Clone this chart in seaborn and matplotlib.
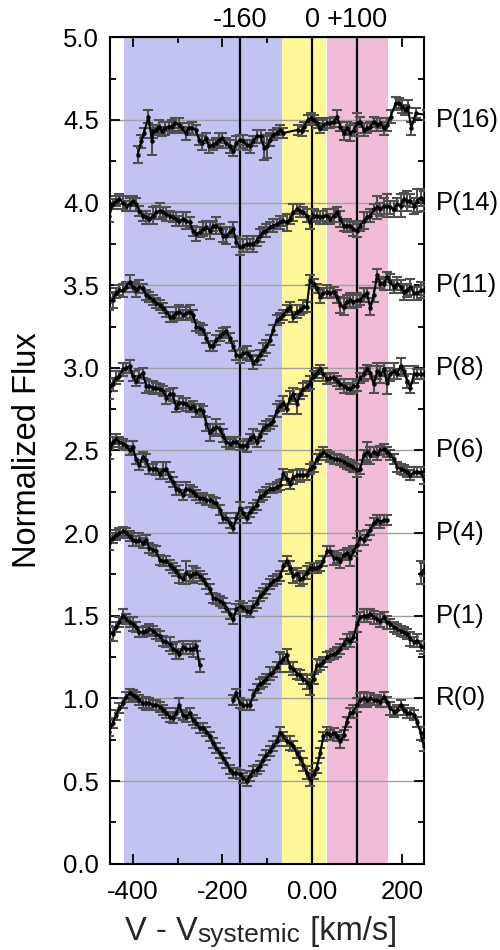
import matplotlib
matplotlib.use('Agg')
import matplotlib.pyplot as plt
import matplotlib.transforms as mtransforms
from matplotlib.ticker import MultipleLocator, FormatStrFormatter
import seaborn as sns
import pandas as pd
import numpy as np

# common velocity sampling (km/s) for most lines
velocity = [-452, -445, -437, -430, -422, -415, -407, -400, -393, -385,
            -378, -370, -363, -355, -348, -340, -333, -325, -318, -311,
            -303, -296, -288, -281, -273, -266, -258, -251, -243, -236,
            -228, -221, -214, -206, -199, -191, -184, -176, -169, -161,
            -154, -146, -139, -131, -124, -117, -109, -102, -94, -87,
            -79, -72, -64, -57, -49, -42, -34, -27, -20, -12,
            -5, 3, 10, 18, 25, 33, 40, 48, 55, 63,
            70, 77, 85, 92, 100, 107, 115, 122, 130, 137,
            145, 152, 160, 167, 174, 182, 189, 197, 204, 212,
            219, 227, 234, 242, 249]

# P(16) has its own sampling
p16_velocity = [-389, -381, -375, -365, -357, -354, -348, -342, -335, -328,
                -320, -313, -306, -297, -290, -282, -275, -267, -260, -252,
                -245, -237, -230, -222, -215, -207, -200, -193, -184, -176,
                -169, -161, -154, -146, -139, -131, -124, -115, -107, -100,
                -94, -87, -79, -72, -66, -31, -23, -18, -10, -3,
                4, 10, 18, 25, 33, 40, 48, 55, 63, 70,
                78, 85, 93, 101, 107, 115, 122, 130, 137, 145,
                152, 160, 167, 175, 186, 193, 201, 208, 213, 221,
                231, 255]
flux_p16 = [4.29, 4.37, 4.42, 4.52, 4.37, 4.43, 4.44, 4.46, 4.43, 4.45,
            4.46, 4.46, 4.48, 4.47, 4.45, 4.42, 4.45, 4.45, 4.44, 4.38,
            4.36, 4.39, 4.34, 4.35, 4.36, 4.38, 4.39, 4.36, 4.34, 4.31,
            4.36, 4.38, 4.37, 4.35, 4.34, 4.37, 4.40, 4.40, 4.33, 4.34,
            4.38, 4.41, 4.42, 4.44, 4.42, 4.44, 4.43, 4.46, 4.50, 4.51,
            4.50, 4.48, 4.45, 4.47, 4.48, 4.48, 4.49, 4.52, 4.46, 4.42,
            4.45, 4.42, 4.44, 4.48, 4.49, 4.44, 4.45, 4.46, 4.49, 4.47,
            4.48, 4.45, 4.47, 4.52, 4.60, 4.60, 4.58, 4.56, 4.58, 4.45,
            4.54, 4.53]
err_p16 = [0.05, 0.04, 0.03, 0.04, 0.08, 0.04, 0.03, 0.04, 0.03, 0.04,
           0.03, 0.04, 0.03, 0.04, 0.03, 0.04, 0.03, 0.04, 0.03, 0.03,
           0.04, 0.03, 0.04, 0.03, 0.03, 0.04, 0.03, 0.03, 0.04, 0.03,
           0.04, 0.03, 0.04, 0.03, 0.04, 0.03, 0.04, 0.04, 0.07, 0.07,
           0.04, 0.03, 0.03, 0.03, 0.03, 0.03, 0.03, 0.03, 0.03, 0.03,
           0.03, 0.03, 0.03, 0.03, 0.03, 0.03, 0.03, 0.04, 0.03, 0.04,
           0.04, 0.05, 0.04, 0.06, 0.03, 0.04, 0.03, 0.03, 0.03, 0.04,
           0.03, 0.04, 0.04, 0.04, 0.04, 0.03, 0.04, 0.03, 0.04, 0.04,
           0.03, 0.03]

flux_p14 = [3.92, 3.99, 4.01, 4.02, 4.00, 3.98, 3.99, 4.01, 3.99, 3.95,
            3.92, 3.91, 3.90, 3.92, 3.94, 3.95, 3.94, 3.93, 3.92, 3.91,
            3.90, 3.89, 3.90, 3.89, 3.88, 3.83, 3.81, 3.82, 3.84, 3.85,
            3.83, 3.86, 3.86, 3.84, 3.80, 3.80, 3.82, 3.84, 3.76, 3.73,
            3.74, 3.75, 3.75, 3.75, 3.77, 3.80, 3.82, 3.83, 3.85, 3.86,
            3.87, 3.88, 3.89, 3.88, 3.90, 3.94, 3.96, 3.95, 3.94, 3.92,
            3.88, 3.92, 3.92, 3.91, 3.92, 3.92, 3.90, 3.92, 3.94, 3.90,
            3.86, 3.86, 3.86, 3.84, 3.83, 3.86, 3.89, 3.91, 3.92, 3.96,
            3.97, 3.96, 3.98, 3.98, 3.97, 3.96, 3.99, 3.98, 4.02, 4.01,
            4.01, 3.98, 4.01, 4.03, 4.01]
err_p14 = [0.04, 0.03, 0.03, 0.03, 0.04, 0.03, 0.04, 0.03, 0.04, 0.03,
           0.03, 0.04, 0.03, 0.05, 0.04, 0.05, 0.03, 0.04, 0.03, 0.03,
           0.04, 0.03, 0.04, 0.05, 0.03, 0.03, 0.04, 0.03, 0.04, 0.04,
           0.05, 0.03, 0.05, 0.03, 0.04, 0.05, 0.03, 0.04, 0.03, 0.05,
           0.04, 0.05, 0.03, 0.05, 0.03, 0.04, 0.03, 0.04, 0.03, 0.04,
           0.03, 0.04, 0.03, 0.05, 0.03, 0.05, 0.03, 0.04, 0.03, 0.04,
           0.04, 0.04, 0.03, 0.04, 0.03, 0.04, 0.03, 0.04, 0.03, 0.05,
           0.03, 0.04, 0.03, 0.04, 0.04, 0.03, 0.05, 0.03, 0.04, 0.03,
           0.07, 0.04, 0.05, 0.07, 0.04, 0.05, 0.04, 0.07, 0.04, 0.06,
           0.04, 0.05, 0.07, 0.05, 0.06]

flux_p11 = [3.40, 3.41, 3.45, 3.47, 3.47, 3.49, 3.52, 3.49, 3.47, 3.49,
            3.48, 3.44, 3.43, 3.41, 3.39, 3.38, 3.36, 3.34, 3.31, 3.31,
            3.33, 3.34, 3.32, 3.33, 3.34, 3.32, 3.25, 3.24, 3.23, 3.18,
            3.13, 3.13, 3.17, 3.19, 3.21, 3.22, 3.18, 3.13, 3.08, 3.07,
            3.09, 3.09, 3.07, 3.03, 3.05, 3.08, 3.11, 3.13, 3.17, 3.23,
            3.29, 3.30, 3.32, 3.35, 3.37, 3.31, 3.34, 3.35, 3.37, 3.37,
            3.53, 3.51, 3.48, 3.43, 3.45, 3.46, 3.45, 3.46, 3.43, 3.38,
            3.37, 3.40, 3.41, 3.40, 3.41, 3.41, 3.44, 3.45, 3.36, 3.44,
            3.56, 3.51, 3.51, 3.55, 3.52, 3.49, 3.51, 3.49, 3.46, 3.47,
            3.49, 3.45, 3.45, 3.47, 3.47]
err_p11 = [0.05, 0.05, 0.03, 0.03, 0.04, 0.03, 0.04, 0.03, 0.04, 0.04,
           0.03, 0.03, 0.03, 0.03, 0.03, 0.03, 0.03, 0.03, 0.03, 0.03,
           0.04, 0.04, 0.03, 0.04, 0.04, 0.03, 0.03, 0.03, 0.03, 0.03,
           0.03, 0.03, 0.03, 0.03, 0.03, 0.03, 0.03, 0.03, 0.03, 0.04,
           0.03, 0.04, 0.03, 0.04, 0.03, 0.03, 0.04, 0.04, 0.03, 0.03,
           0.03, 0.03, 0.03, 0.03, 0.03, 0.03, 0.04, 0.03, 0.04, 0.03,
           0.03, 0.03, 0.03, 0.04, 0.03, 0.04, 0.03, 0.03, 0.04, 0.05,
           0.05, 0.04, 0.04, 0.04, 0.04, 0.03, 0.04, 0.03, 0.04, 0.04,
           0.04, 0.03, 0.04, 0.03, 0.05, 0.04, 0.04, 0.04, 0.05, 0.04,
           0.05, 0.04, 0.04, 0.05, 0.03]

flux_p8 = [2.86, 2.90, 2.94, 2.95, 2.99, 3.00, 3.01, 2.95, 2.92, 2.95,
           2.97, 2.89, 2.89, 2.88, 2.88, 2.87, 2.86, 2.82, 2.84, 2.84,
           2.76, 2.79, 2.79, 2.78, 2.76, 2.77, 2.74, 2.75, 2.74, 2.66,
           2.61, 2.63, 2.64, 2.63, 2.59, 2.55, 2.54, 2.55, 2.55, 2.53,
           2.53, 2.53, 2.57, 2.59, 2.55, 2.59, 2.63, 2.65, 2.66, 2.68,
           2.74, 2.77, 2.79, 2.75, 2.82, 2.84, 2.78, 2.84, 2.87, 2.89,
           2.91, 2.95, 2.97, 2.99, 2.96, 2.93, 2.94, 2.94, 2.92, 2.90,
           2.89, 2.88, 2.87, 2.89, 2.89, 2.94, 2.96, 2.99, 2.97, 2.90,
           2.98, 2.96, 2.99, 2.91, 2.96, 2.98, 2.96, 3.01, 2.98, 2.92,
           2.88, 2.96, 2.96, 2.96, 2.96]
err_p8 = [0.05, 0.04, 0.04, 0.03, 0.04, 0.03, 0.04, 0.03, 0.03, 0.04,
          0.03, 0.04, 0.03, 0.04, 0.03, 0.03, 0.03, 0.04, 0.03, 0.04,
          0.03, 0.04, 0.03, 0.04, 0.03, 0.03, 0.04, 0.03, 0.03, 0.04,
          0.05, 0.03, 0.05, 0.03, 0.04, 0.03, 0.03, 0.03, 0.03, 0.03,
          0.03, 0.04, 0.03, 0.04, 0.03, 0.03, 0.03, 0.03, 0.03, 0.03,
          0.04, 0.03, 0.04, 0.03, 0.04, 0.04, 0.06, 0.03, 0.04, 0.03,
          0.04, 0.03, 0.03, 0.03, 0.04, 0.03, 0.03, 0.03, 0.03, 0.03,
          0.04, 0.03, 0.03, 0.04, 0.03, 0.03, 0.04, 0.03, 0.04, 0.05,
          0.05, 0.05, 0.04, 0.07, 0.04, 0.05, 0.03, 0.05, 0.03, 0.04,
          0.03, 0.05, 0.03, 0.03, 0.03]

flux_p6 = [2.48, 2.55, 2.57, 2.55, 2.54, 2.53, 2.50, 2.52, 2.45, 2.41,
           2.46, 2.44, 2.39, 2.39, 2.39, 2.36, 2.38, 2.39, 2.34, 2.31,
           2.27, 2.26, 2.23, 2.27, 2.26, 2.25, 2.23, 2.21, 2.21, 2.20,
           2.20, 2.19, 2.18, 2.14, 2.09, 2.09, 2.06, 2.03, 2.09, 2.15,
           2.12, 2.09, 2.13, 2.15, 2.17, 2.22, 2.23, 2.25, 2.27, 2.27,
           2.28, 2.29, 2.36, 2.33, 2.30, 2.34, 2.35, 2.35, 2.35, 2.35,
           2.39, 2.40, 2.45, 2.47, 2.49, 2.47, 2.46, 2.45, 2.45, 2.44,
           2.43, 2.42, 2.41, 2.40, 2.38, 2.39, 2.47, 2.49, 2.47, 2.49,
           2.48, 2.50, 2.51, 2.49, 2.47, 2.45, 2.40, 2.39, 2.38, 2.37,
           2.35, 2.37, 2.37, 2.37, 2.33]
err_p6 = [0.03, 0.03, 0.03, 0.03, 0.03, 0.03, 0.03, 0.04, 0.03, 0.03,
          0.03, 0.04, 0.03, 0.03, 0.04, 0.03, 0.05, 0.04, 0.03, 0.03,
          0.04, 0.03, 0.03, 0.04, 0.03, 0.03, 0.03, 0.03, 0.03, 0.03,
          0.03, 0.03, 0.03, 0.03, 0.03, 0.03, 0.03, 0.03, 0.03, 0.04,
          0.03, 0.03, 0.03, 0.03, 0.03, 0.03, 0.03, 0.03, 0.03, 0.03,
          0.03, 0.03, 0.03, 0.04, 0.03, 0.04, 0.03, 0.04, 0.03, 0.03,
          0.03, 0.03, 0.03, 0.03, 0.03, 0.03, 0.03, 0.03, 0.03, 0.03,
          0.03, 0.03, 0.03, 0.03, 0.04, 0.03, 0.03, 0.06, 0.05, 0.03,
          0.04, 0.03, 0.03, 0.03, 0.03, 0.03, 0.03, 0.03, 0.03, 0.03,
          0.03, 0.03, 0.03, 0.03, 0.03]

nan = np.nan
flux_p4 = [1.94, 1.97, 1.99, 2.00, 2.01, 2.00, 1.98, 1.96, 1.95, 1.96,
           1.94, 1.96, 1.91, 1.90, 1.89, 1.84, 1.83, 1.83, 1.81, 1.79,
           1.77, 1.74, 1.72, 1.76, 1.74, 1.75, 1.76, 1.74, 1.72, 1.69,
           1.66, 1.61, 1.60, 1.59, 1.58, 1.55, 1.51, 1.48, 1.54, 1.56,
           1.55, 1.53, 1.52, 1.56, 1.58, 1.62, 1.64, 1.66, 1.69, 1.71,
           1.72, 1.74, 1.80, 1.83, 1.79, 1.74, 1.75, 1.72, 1.73, 1.76,
           1.79, 1.79, 1.79, 1.80, 1.83, 1.89, 1.89, 1.85, 1.85, 1.83,
           1.87, 1.88, 1.85, 1.89, 1.93, 1.97, 1.96, 1.99, 2.02, 2.06,
           2.08, 2.07, 2.08, 2.08, nan, nan, nan, nan, nan, nan,
           nan, nan, nan, 1.76, 1.78]
err_p4 = [0.04, 0.03, 0.03, 0.03, 0.03, 0.03, 0.03, 0.04, 0.03, 0.04,
          0.03, 0.03, 0.03, 0.03, 0.03, 0.03, 0.03, 0.03, 0.03, 0.03,
          0.03, 0.04, 0.03, 0.07, 0.03, 0.05, 0.03, 0.03, 0.03, 0.03,
          0.03, 0.03, 0.03, 0.03, 0.03, 0.03, 0.03, 0.03, 0.03, 0.03,
          0.03, 0.03, 0.03, 0.03, 0.03, 0.03, 0.03, 0.03, 0.03, 0.03,
          0.03, 0.03, 0.03, 0.03, 0.04, 0.04, 0.04, 0.04, 0.04, 0.04,
          0.03, 0.03, 0.03, 0.03, 0.03, 0.03, 0.03, 0.04, 0.03, 0.04,
          0.03, 0.03, 0.05, 0.03, 0.04, 0.04, 0.03, 0.03, 0.03, 0.03,
          0.03, 0.04, 0.03, 0.03, 0.0, 0.0, 0.0, 0.0, 0.0, 0.0,
          0.0, 0.0, 0.0, 0.07, 0.04]

flux_p1 = [1.40, 1.39, 1.43, 1.46, 1.50, 1.48, 1.46, 1.45, 1.43, 1.40,
           1.40, 1.41, 1.42, 1.41, 1.39, 1.38, 1.35, 1.34, 1.33, 1.30,
           1.29, 1.27, 1.31, 1.30, 1.30, 1.30, 1.32, 1.20, nan, nan,
           nan, nan, nan, nan, nan, nan, nan, 0.99, 1.03, 0.97,
           0.96, 0.96, 0.96, 1.02, 1.06, 1.09, 1.10, 1.12, 1.15, 1.16,
           1.19, 1.22, 1.24, 1.26, 1.19, 1.18, 1.15, 1.14, 1.12, 1.10,
           1.07, 1.12, 1.20, 1.20, 1.22, 1.25, 1.26, 1.27, 1.28, 1.30,
           1.33, 1.36, 1.35, 1.37, 1.45, 1.49, 1.50, 1.50, 1.51, 1.49,
           1.48, 1.47, 1.49, 1.46, 1.45, 1.43, 1.42, 1.41, 1.40, 1.39,
           1.36, 1.34, 1.35, 1.32, 1.31]
err_p1 = [0.04, 0.04, 0.03, 0.03, 0.04, 0.03, 0.03, 0.04, 0.03, 0.03,
          0.03, 0.03, 0.03, 0.03, 0.03, 0.03, 0.03, 0.03, 0.04, 0.03,
          0.05, 0.03, 0.04, 0.03, 0.03, 0.05, 0.03, 0.04, 0.0, 0.0,
          0.0, 0.0, 0.0, 0.0, 0.0, 0.0, 0.0, 0.03, 0.03, 0.03,
          0.03, 0.03, 0.03, 0.03, 0.03, 0.03, 0.03, 0.03, 0.04, 0.03,
          0.03, 0.06, 0.03, 0.04, 0.03, 0.04, 0.03, 0.03, 0.03, 0.04,
          0.05, 0.03, 0.04, 0.03, 0.03, 0.03, 0.03, 0.03, 0.03, 0.03,
          0.03, 0.03, 0.04, 0.03, 0.05, 0.03, 0.04, 0.04, 0.03, 0.04,
          0.03, 0.04, 0.03, 0.04, 0.03, 0.03, 0.03, 0.03, 0.03, 0.03,
          0.04, 0.03, 0.04, 0.03, 0.04]

flux_r0 = [0.80, 0.85, 0.90, 0.94, 0.97, 1.01, 1.03, 1.02, 1.01, 0.99,
           0.97, 0.97, 0.97, 0.96, 0.96, 0.95, 0.93, 0.91, 0.89, 0.88,
           0.91, 0.96, 0.90, 0.89, 0.91, 0.87, 0.85, 0.82, 0.82, 0.80,
           0.77, 0.73, 0.70, 0.67, 0.64, 0.61, 0.57, 0.55, 0.55, 0.54,
           0.52, 0.50, 0.53, 0.56, 0.57, 0.59, 0.63, 0.66, 0.68, 0.71,
           0.74, 0.79, 0.77, 0.74, 0.73, 0.71, 0.67, 0.64, 0.60, 0.55,
           0.51, 0.54, 0.58, 0.67, 0.77, 0.79, 0.78, 0.79, 0.77, 0.74,
           0.78, 0.86, 0.91, 0.92, 0.96, 0.99, 1.00, 0.99, 1.00, 0.99,
           0.99, 0.98, 1.01, 0.98, 0.94, 0.92, 0.93, 0.96, 0.93, 0.91,
           0.91, 0.90, 0.86, 0.79, 0.71]
err_r0 = [0.03, 0.03, 0.03, 0.03, 0.03, 0.03, 0.03, 0.03, 0.03, 0.03,
          0.03, 0.04, 0.03, 0.03, 0.03, 0.03, 0.03, 0.03, 0.03, 0.03,
          0.03, 0.04, 0.03, 0.03, 0.03, 0.03, 0.03, 0.03, 0.03, 0.03,
          0.03, 0.03, 0.03, 0.03, 0.03, 0.03, 0.03, 0.03, 0.03, 0.03,
          0.03, 0.03, 0.03, 0.03, 0.03, 0.03, 0.03, 0.03, 0.03, 0.03,
          0.03, 0.04, 0.03, 0.03, 0.04, 0.03, 0.03, 0.04, 0.04, 0.04,
          0.04, 0.03, 0.03, 0.03, 0.03, 0.04, 0.03, 0.03, 0.03, 0.04,
          0.03, 0.03, 0.03, 0.04, 0.04, 0.04, 0.04, 0.04, 0.03, 0.03,
          0.03, 0.03, 0.03, 0.03, 0.04, 0.03, 0.03, 0.03, 0.03, 0.03,
          0.03, 0.03, 0.03, 0.04, 0.03]

line_labels = ['P(16)', 'P(14)', 'P(11)', 'P(8)', 'P(6)', 'P(4)', 'P(1)', 'R(0)']
label_levels = [4.5, 4.0, 3.5, 3.0, 2.5, 2.0, 1.5, 1.0]
marker_velocities = [-160, 0, 100]
marker_labels = ['-160', '0', '+100']
region_bounds = [(-420, -68), (-68, 31), (33, 169)]
region_colors = ['#c3c3f2', '#fff899', '#f0bcd8']

series = [
    ('P(16)', p16_velocity, flux_p16, err_p16),
    ('P(14)', velocity, flux_p14, err_p14),
    ('P(11)', velocity, flux_p11, err_p11),
    ('P(8)', velocity, flux_p8, err_p8),
    ('P(6)', velocity, flux_p6, err_p6),
    ('P(4)', velocity, flux_p4, err_p4),
    ('P(1)', velocity, flux_p1, err_p1),
    ('R(0)', velocity, flux_r0, err_r0),
]

frames = []
for name, v, f, e in series:
    d = pd.DataFrame({'velocity': v, 'flux': f, 'err': e})
    # split line where points are missing
    d['segment'] = name + '_' + d['flux'].isna().cumsum().astype(str)
    frames.append(d.dropna())
df = pd.concat(frames, ignore_index=True)

sns.set_style('ticks')
plt.rcParams['font.family'] = ['Liberation Sans', 'DejaVu Sans']

fig = plt.figure(figsize=(5, 9.5), dpi=100)
ax = fig.add_axes([0.2206, 0.0908, 0.628, 0.870])

for (lo, hi), c in zip(region_bounds, region_colors):
    ax.axvspan(lo, hi, color=c, lw=0, zorder=0.2)

ax.set_axisbelow(True)
ax.yaxis.grid(True, which='major', color='#a0a0a0', lw=1.0)

for v in marker_velocities:
    ax.axvline(v, color='black', lw=1.6, zorder=2)

ax.errorbar(df['velocity'], df['flux'], yerr=df['err'], fmt='none',
            ecolor='#505050', elinewidth=1.5, capsize=3.6, capthick=1.5, zorder=3)
sns.lineplot(data=df, x='velocity', y='flux', units='segment', estimator=None,
             sort=False, color='black', lw=1.5, marker='o', markersize=3.2,
             markeredgewidth=0, ax=ax, zorder=4)

ax.set_xlim(-450, 250)
ax.set_ylim(0, 5)
ax.set_xticks([-400, -200, 0, 200])
ax.set_xticklabels(['-400', '-200', '0.00', '200'])
ax.xaxis.set_minor_locator(MultipleLocator(100))
ax.set_yticks(np.arange(0, 5.01, 0.5))
ax.yaxis.set_major_formatter(FormatStrFormatter('%.1f'))
ax.yaxis.set_minor_locator(MultipleLocator(0.25))
ax.tick_params(which='both', direction='in', top=True, right=True,
               width=1.3, color='black', labelsize=18.5, labelcolor='black')
ax.tick_params(which='major', length=7, pad=8)
ax.tick_params(which='minor', length=4.5)
ax.tick_params(axis='x', which='major', pad=11.5)
for s in ax.spines.values():
    s.set_linewidth(1.5)
    s.set_color('black')

ax.set_xlabel('')
ax.set_ylabel('Normalized Flux', fontsize=23.5, color='black')
ax.yaxis.set_label_coords(-0.215, 0.5)

# x label built from pieces so the subscript keeps the same baseline
t1 = fig.text(0.25, 0.0105, 'V - V', fontsize=23.5, va='baseline', ha='left')
t2 = ax.annotate('systemic', xy=(1, 0), xycoords=t1, fontsize=19,
                 va='bottom', ha='left', annotation_clip=False)
ax.annotate(' [km/s]', xy=(1, 0), xycoords=t2, fontsize=23.5,
            va='bottom', ha='left', annotation_clip=False)

right_tr = mtransforms.blended_transform_factory(ax.transAxes, ax.transData)
for lab, lev in zip(line_labels, label_levels):
    ax.text(1.037, lev, lab, transform=right_tr, ha='left', va='center',
            fontsize=18.5, color='black')

top_tr = mtransforms.blended_transform_factory(ax.transData, ax.transAxes)
for v, lab in zip(marker_velocities, marker_labels):
    ax.text(v, 1.012, lab, transform=top_tr, ha='center', va='baseline',
            fontsize=19.5, color='black')

fig.savefig('out.png', dpi=100)
